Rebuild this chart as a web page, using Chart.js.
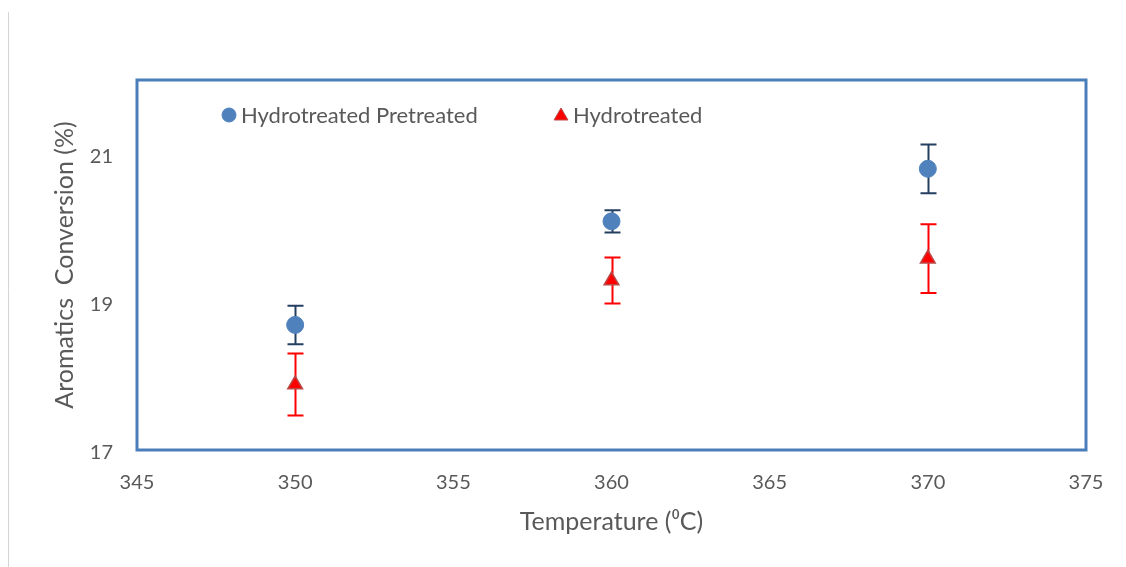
<!DOCTYPE html>
<html>
<head>
<meta charset="utf-8">
<script src="https://cdn.jsdelivr.net/npm/chart.js@4"></script>
<style>
  html, body { margin: 0; padding: 0; background: #ffffff; }
  #wrap { width: 1126px; height: 567px; }
</style>
</head>
<body>
<div id="wrap"><canvas id="c" width="1126" height="567"></canvas></div>
<script>
// ---- data ----
const temperatures = [350, 360, 370];
const pretreatedValues = [18.69, 20.09, 20.80];
const pretreatedErrors = [0.26, 0.15, 0.33];
const hydrotreatedValues = [17.885, 19.29, 19.585];
const hydrotreatedErrors = [0.42, 0.31, 0.465];
const xTicks = [345, 350, 355, 360, 365, 370, 375];
const yTicks = [17, 19, 21];
const seriesLabels = ['Hydrotreated Pretreated', 'Hydrotreated'];
const xTitle = 'Temperature (\u2070C)';
const yTitle = 'Aromatics  Conversion (%)';

const FONT = 'Lato, "Open Sans", sans-serif';
const TEXT = '#595959';

const toPoints = (xs, ys) => xs.map((x, i) => ({ x: x, y: ys[i] }));

const errorBarPlugin = {
  id: 'errorBars',
  beforeDatasetsDraw(chart) {
    const ctx = chart.ctx;
    const xs = chart.scales.x, ys = chart.scales.y;
    chart.data.datasets.forEach((ds) => {
      const errs = ds.errors;
      if (!errs) return;
      ctx.save();
      ctx.strokeStyle = ds.errorColor;
      ctx.lineWidth = 2;
      ds.data.forEach((p, i) => {
        const px = Math.round(xs.getPixelForValue(p.x)) + 0.5;
        const yTop = ys.getPixelForValue(p.y + errs[i]);
        const yBot = ys.getPixelForValue(p.y - errs[i]);
        const cap = 8;
        ctx.beginPath();
        ctx.moveTo(px, yTop); ctx.lineTo(px, yBot);
        ctx.moveTo(px - cap, yTop); ctx.lineTo(px + cap, yTop);
        ctx.moveTo(px - cap, yBot); ctx.lineTo(px + cap, yBot);
        ctx.stroke();
      });
      ctx.restore();
    });
  }
};

const frameLegendPlugin = {
  id: 'frameLegend',
  beforeDraw(chart) {
    const ctx = chart.ctx;
    ctx.save();
    ctx.strokeStyle = '#d4d4d4';
    ctx.lineWidth = 1;
    ctx.beginPath();
    ctx.moveTo(8.5, 12);
    ctx.lineTo(8.5, chart.height);
    ctx.stroke();
    ctx.restore();
  },
  afterDraw(chart) {
    const ctx = chart.ctx;
    const a = chart.chartArea;
    ctx.save();
    ctx.strokeStyle = '#4a7ebb';
    ctx.lineWidth = 3;
    ctx.strokeRect(a.left, a.top, a.right - a.left, a.bottom - a.top);
    // legend inside the plot area
    const items = [{ dx: 92 }, { dx: 424 }];
    const ly = a.top + 35;
    ctx.font = '22px ' + FONT;
    ctx.textBaseline = 'middle';
    ctx.textAlign = 'left';
    chart.data.datasets.forEach((ds, i) => {
      const x = a.left + items[i].dx;
      const tri = ds.pointStyle === 'triangle';
      ctx.fillStyle = ds.backgroundColor;
      ctx.strokeStyle = ds.borderColor;
      ctx.lineWidth = 1;
      Chart.helpers.drawPoint(ctx, { pointStyle: ds.pointStyle, radius: tri ? 8 : 7, rotation: 0, borderWidth: 1 }, x, ly + (tri ? 1 : 0));
      ctx.fillStyle = TEXT;
      ctx.fillText(ds.label, x + 12, ly + 1);
    });
    ctx.restore();
  }
};

new Chart(document.getElementById('c'), {
  type: 'scatter',
  data: {
    datasets: [
      {
        label: seriesLabels[0],
        data: toPoints(temperatures, pretreatedValues),
        errors: pretreatedErrors,
        errorColor: '#243f60',
        pointStyle: 'circle',
        pointRadius: 8.5,
        pointHoverRadius: 8.5,
        backgroundColor: '#4f81bd',
        borderColor: '#4f81bd',
        borderWidth: 1
      },
      {
        label: seriesLabels[1],
        data: toPoints(temperatures, hydrotreatedValues),
        errors: hydrotreatedErrors,
        errorColor: '#ff0000',
        pointStyle: 'triangle',
        pointRadius: 8.5,
        pointHoverRadius: 8.5,
        backgroundColor: '#ff0000',
        borderColor: '#b94a48',
        borderWidth: 1.5
      }
    ]
  },
  options: {
    responsive: false,
    animation: false,
    layout: { padding: { left: 40, top: 80, right: 40, bottom: 20 } },
    plugins: {
      legend: { display: false },
      tooltip: { enabled: false }
    },
    scales: {
      x: {
        type: 'linear',
        min: 345, max: 375,
        afterBuildTicks: s => { s.ticks = xTicks.map(v => ({ value: v })); },
        afterFit: s => { s.height = 97; },
        grid: { display: false, drawTicks: false },
        border: { display: false },
        ticks: { color: TEXT, font: { family: FONT, size: 20 }, padding: 21, maxRotation: 0 },
        title: { display: true, text: xTitle, color: TEXT, font: { family: FONT, size: 25 }, padding: { top: 10, bottom: 10 } }
      },
      y: {
        type: 'linear',
        min: 17, max: 22,
        afterBuildTicks: s => { s.ticks = yTicks.map(v => ({ value: v })); },
        afterFit: s => { s.width = 97; },
        grid: { display: false, drawTicks: false },
        border: { display: false },
        ticks: { color: TEXT, font: { family: FONT, size: 20 }, padding: 24, labelOffset: 3 },
        title: { display: true, text: yTitle, color: TEXT, font: { family: FONT, size: 25 }, padding: { top: 10, bottom: 10 } }
      }
    }
  },
  plugins: [errorBarPlugin, frameLegendPlugin]
});
</script>
</body>
</html>
